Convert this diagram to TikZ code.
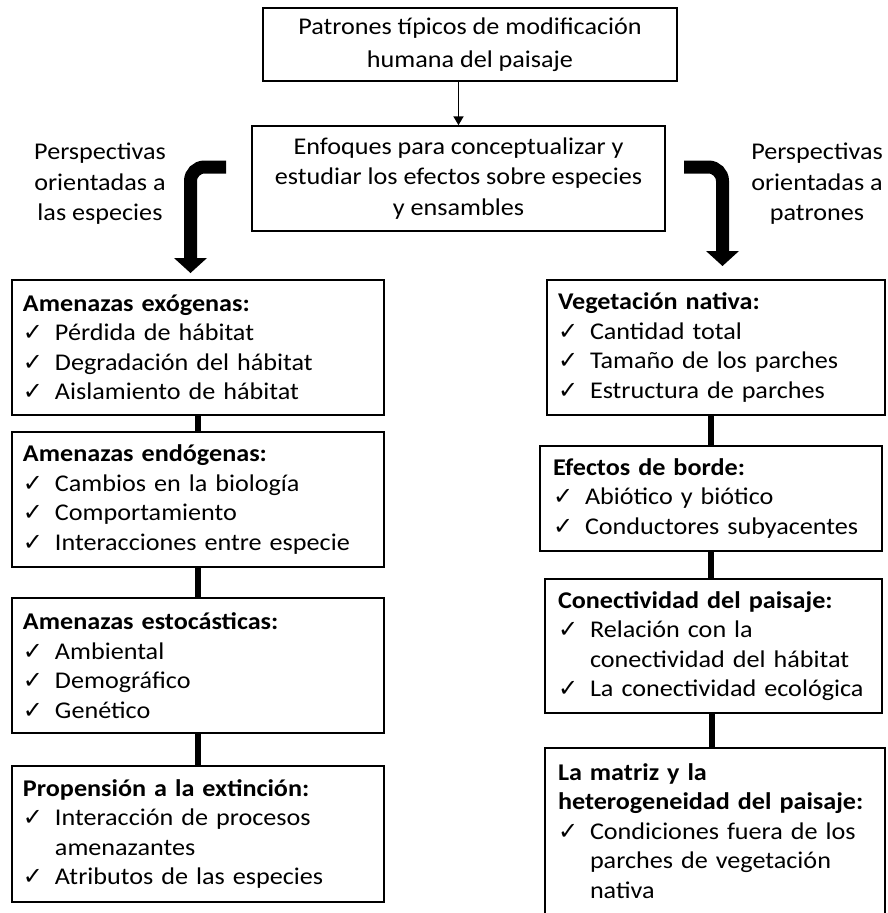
\documentclass[tikz,border=0pt]{standalone}
\usepackage{fontspec}
\setmainfont{Carlito}[FakeStretch=1.09]
\newfontfamily\checkfont{DejaVu Sans}
\usetikzlibrary{arrows.meta,calc}
\newcommand\ck{\makebox[32pt][l]{{\checkfont\fontsize{24}{20}\selectfont ✓}}}
\newcommand\ind{\hspace*{32pt}}
\tikzset{
  every node/.style={font=\fontsize{24}{29.5}\selectfont, inner sep=0pt},
  box/.style={draw, line width=1.5pt, align=left},
  cbox/.style={draw, line width=1.5pt, align=center},
  conn/.style={line width=6.5pt},
  bigarrow/.style={line width=13pt, rounded corners=14pt},
  thinarrow/.style={line width=1.8pt, -{Triangle[width=10pt,length=9pt]}}
}
\begin{document}
\begin{tikzpicture}[x=1pt,y=-1pt]
\useasboundingbox (0,0) rectangle (887,913);

% top boxes
\node[cbox, minimum width=414pt, minimum height=73pt,
      font=\fontsize{24}{33}\selectfont] (top) at (470,44.5)
  {Patrones típicos de modificación\\humana del paisaje};
\node[cbox, minimum width=413pt, minimum height=105pt,
      font=\fontsize{24}{30.5}\selectfont] (mid) at (458.5,178.5)
  {Enfoques para conceptualizar y\\estudiar los efectos sobre especies\\y ensambles};
\draw[thinarrow] (top.south -| mid.north) -- (mid.north);

% side labels
\node[align=center, font=\fontsize{24}{30.5}\selectfont] (ltxt) at (100,184)
  {Perspectivas\\orientadas a\\las especies};
\node[align=center, font=\fontsize{24}{30.5}\selectfont] (rtxt) at (817,184)
  {Perspectivas\\orientadas a\\patrones};

% left column
\node[box, minimum width=372pt, minimum height=135pt, text width=350pt] (l1) at (198,347.5)
  {\textbf{Amenazas exógenas:}\\
   \ck Pérdida de hábitat\\
   \ck Degradación del hábitat\\
   \ck Aislamiento de hábitat};
\node[box, minimum width=372pt, minimum height=135pt, text width=350pt] (l2) at (198,499.5)
  {\textbf{Amenazas endógenas:}\\
   \ck Cambios en la biología\\
   \ck Comportamiento\\
   \ck Interacciones entre especie};
\node[box, minimum width=372pt, minimum height=135pt, text width=350pt] (l3) at (198,665.5)
  {\textbf{Amenazas estocásticas:}\\
   \ck Ambiental\\
   \ck Demográfico\\
   \ck Genético};
\node[box, minimum width=372pt, minimum height=136pt, text width=350pt] (l4) at (198,834)
  {\textbf{Propensión a la extinción:}\\
   \ck Interacción de procesos\\
   \ind amenazantes\\
   \ck Atributos de las especies};

% right column
\node[box, minimum width=338pt, minimum height=135pt, text width=316pt] (r1) at (716,347.5)
  {\textbf{Vegetación nativa:}\\
   \ck Cantidad total\\
   \ck Tamaño de los parches\\
   \ck Estructura de parches};
\node[box, minimum width=342pt, minimum height=105pt, text width=316pt] (r2) at (711,498.5)
  {\textbf{Efectos de borde:}\\
   \ck Abiótico y biótico\\
   \ck Conductores subyacentes};
\node[box, minimum width=337pt, minimum height=134pt, text width=311pt] (r3) at (713.5,646)
  {\textbf{Conectividad del paisaje:}\\
   \ck Relación con la\\
   \ind conectividad del hábitat\\
   \ck La conectividad ecológica};
\node[box, minimum width=340pt, minimum height=166pt, text width=314pt] (r4) at (715,831)
  {\textbf{La matriz y la}\\
   \textbf{heterogeneidad del paisaje:}\\
   \ck Condiciones fuera de los\\
   \ind parches de vegetación\\
   \ind nativa};

% connectors
\draw[conn] (l1.south) -- (l2.north);
\draw[conn] (l2.south) -- (l3.north);
\draw[conn] (l3.south) -- (l4.north);
\coordinate (rx) at (711,0);
\draw[conn] (r1.south -| rx) -- (r2.north -| rx);
\draw[conn] (r2.south -| rx) -- (r3.north -| rx);
\coordinate (rx2) at (712,0);
\draw[conn] (r3.south -| rx2) -- (r4.north -| rx2);

% big curved arrows
\coordinate (la0) at (226,167);
\coordinate (la1) at (190.5,259);
\coordinate (la2) at (190.5,273);
\draw[bigarrow] (la0) -| (la1);
\fill ($(la1)+(-16.5,-1)$) -- ($(la1)+(16.5,-1)$) -- (la2) -- cycle;

\coordinate (ra0) at (684,167);
\coordinate (ra1) at (722.5,252);
\coordinate (ra2) at (722.5,266);
\draw[bigarrow] (ra0) -| (ra1);
\fill ($(ra1)+(-16.5,-1)$) -- ($(ra1)+(16.5,-1)$) -- (ra2) -- cycle;
\end{tikzpicture}
\end{document}
